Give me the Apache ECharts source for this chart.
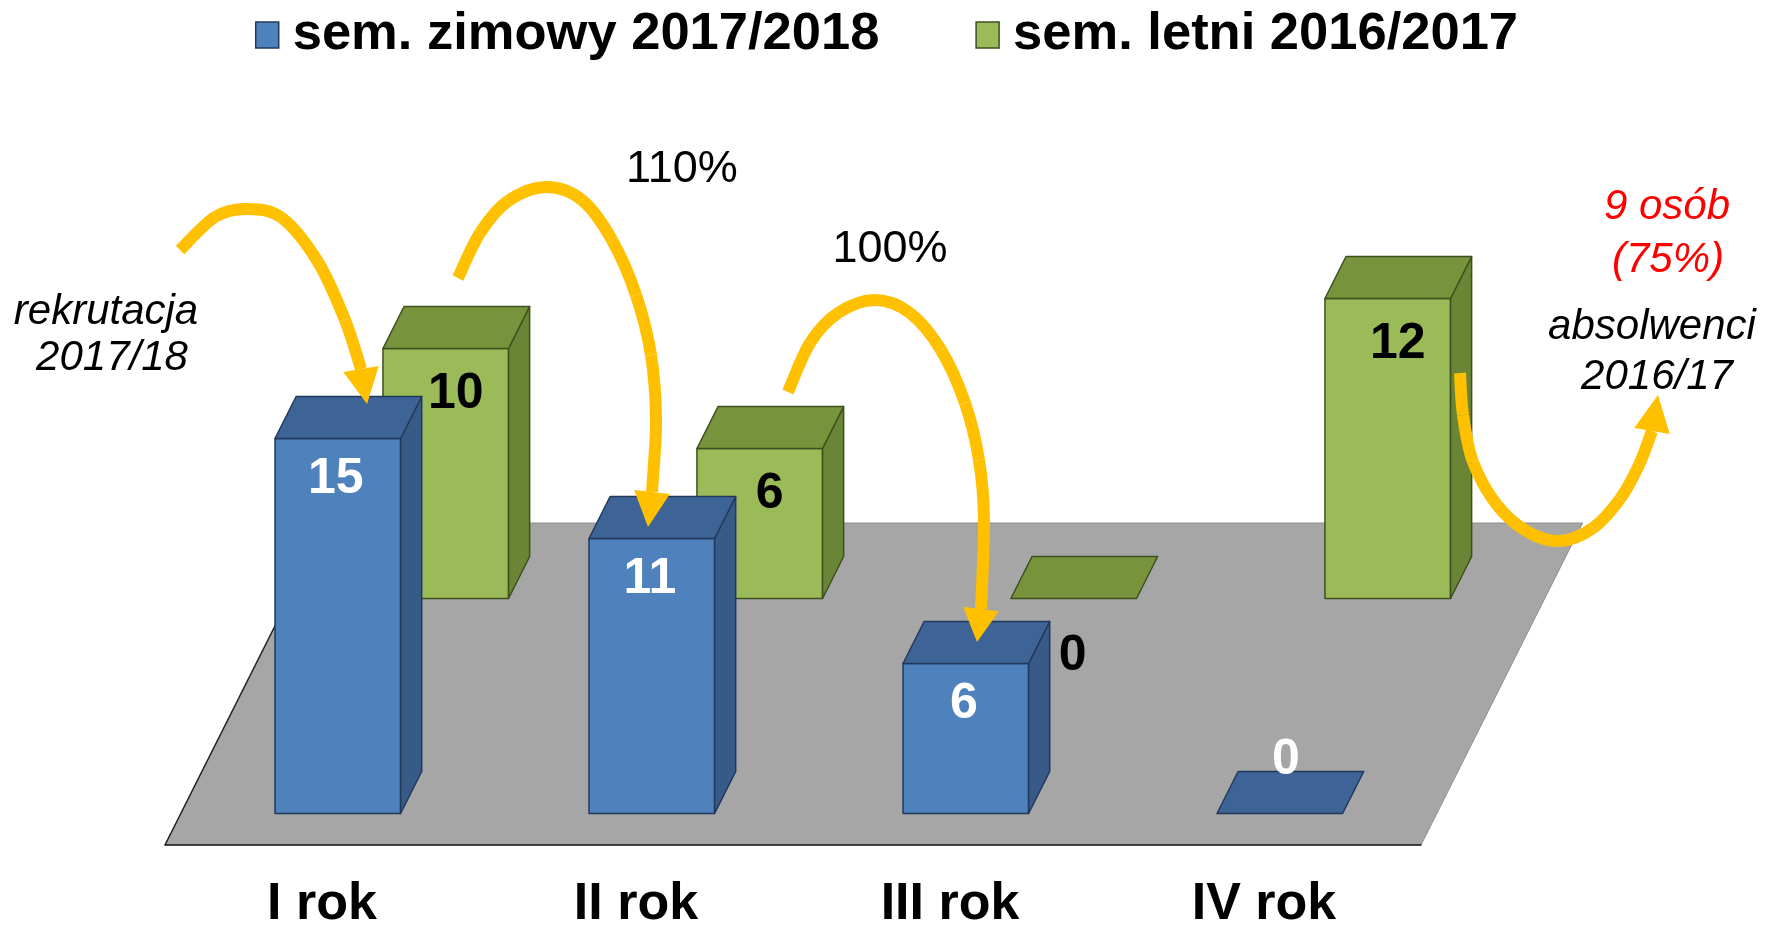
<!DOCTYPE html>
<html>
<head>
<meta charset="utf-8">
<title>Studenci wg roku studiów</title>
<script src="https://cdn.jsdelivr.net/npm/echarts@6.0.0/dist/echarts.min.js"></script>
<style>
  html, body { margin: 0; padding: 0; background: #fff; }
  #main { width: 1773px; height: 930px; }
</style>
</head>
<body>
<div id="main"></div>
<script>
const years = ['I rok', 'II rok', 'III rok', 'IV rok'];
const winterName = 'sem. zimowy 2017/2018';
const winterValues = [15, 11, 6, 0];
const summerName = 'sem. letni 2016/2017';
const summerValues = [10, 6, 0, 12];

// fake 3D: depth goes up and to the right
const SLANT = 0.502;
const FLOOR_DEPTH = 322;
const BAR_DEPTH = 42;
const BAR_RATIO = 0.4;
const FONT = '"Liberation Sans", Arial, sans-serif';
const ARROW = '#FFC000';

const rows = {
  winter: { depth: 31.5, front: '#4F81BD', top: '#3E6396', side: '#375A87', edge: '#22395C',
            label: '#fff', labelDx: -2, labelDy: 41, zeroDx: 6, zeroDy: -53 },
  summer: { depth: 246.5, front: '#9BBB59', top: '#77933C', side: '#6A8535', edge: '#3F4F1F',
            label: '#000', labelDx: 10, labelDy: 46, zeroDx: -1, zeroDy: 58 }
};

function barRenderer(row) {
  return function (params, api) {
    const i = api.value(0), v = api.value(1);
    const base = api.coord([i, 0]);
    const top = api.coord([i, v]);
    const w = api.size([1, 0])[0] * BAR_RATIO;
    const cx = base[0] + row.depth * SLANT;
    const L = cx - w / 2, R = cx + w / 2;
    const B = base[1] - row.depth, T = top[1] - row.depth;
    const ddx = BAR_DEPTH * SLANT;
    const edge = { stroke: row.edge, lineWidth: 1.5, lineJoin: 'round' };
    const kids = [];
    if (v > 0) {
      kids.push({ type: 'rect', shape: { x: L, y: T, width: w, height: B - T },
        style: Object.assign({ fill: row.front }, edge) });
      kids.push({ type: 'polygon',
        shape: { points: [[R, T], [R + ddx, T - BAR_DEPTH], [R + ddx, B - BAR_DEPTH], [R, B]] },
        style: Object.assign({ fill: row.side }, edge) });
    }
    kids.push({ type: 'polygon',
      shape: { points: [[L, T], [R, T], [R + ddx, T - BAR_DEPTH], [L + ddx, T - BAR_DEPTH]] },
      style: Object.assign({ fill: row.top }, edge) });
    kids.push({ type: 'text', style: {
      text: String(v),
      x: cx + (v ? row.labelDx : row.zeroDx),
      y: T + (v ? row.labelDy : row.zeroDy),
      fill: row.label, fontSize: 50, fontWeight: 'bold', fontFamily: FONT,
      align: 'center', verticalAlign: 'middle'
    } });
    return { type: 'group', children: kids };
  };
}

function floorRenderer(params, api) {
  const bw = api.size([1, 0])[0];
  const a = api.coord([0, 0]), b = api.coord([years.length - 1, 0]);
  const x0 = a[0] - bw / 2, x1 = b[0] + bw / 2, y = a[1];
  const dx = FLOOR_DEPTH * SLANT, y2 = y - FLOOR_DEPTH;
  return { type: 'group', children: [
    { type: 'polygon', shape: { points: [[x0, y], [x1, y], [x1 + dx, y2], [x0 + dx, y2]] },
      style: { fill: '#A6A6A6', stroke: '#8E8E8E', lineWidth: 1 } },
    { type: 'polyline', shape: { points: [[x0 + dx, y2], [x0, y]] },
      style: { stroke: '#222', lineWidth: 1.5, fill: null } }
  ] };
}

// annotation arrows: points along the body, then tip of the head
const arrows = [
  { pts: [[180, 250], [215, 217], [247, 209], [282, 218], [318, 262], [345, 320], [361, 369]], tip: [367, 404] },
  { pts: [[458, 278], [480, 233], [508, 201], [546, 187], [582, 200], [612, 240], [636, 295], [651, 355], [656, 420], [652, 492]], tip: [648, 527] },
  { pts: [[788, 392], [810, 343], [838, 313], [875, 300], [910, 313], [941, 350], [965, 403], [979, 460], [984, 520], [981, 609]], tip: [977, 642] },
  { pts: [[1460, 373], [1463, 415], [1473, 462], [1497, 505], [1528, 532], [1560, 541], [1593, 528], [1620, 499], [1639, 465], [1652, 431]], tip: [1658, 395] }
];

// catmull-rom through the points, one bezier piece per span
function smoothPieces(p) {
  const out = [];
  for (let i = 0; i < p.length - 1; i++) {
    const p0 = p[Math.max(i - 1, 0)], p1 = p[i], p2 = p[i + 1], p3 = p[Math.min(i + 2, p.length - 1)];
    out.push({
      x1: p1[0], y1: p1[1], x2: p2[0], y2: p2[1],
      cpx1: p1[0] + (p2[0] - p0[0]) / 6, cpy1: p1[1] + (p2[1] - p0[1]) / 6,
      cpx2: p2[0] - (p3[0] - p1[0]) / 6, cpy2: p2[1] - (p3[1] - p1[1]) / 6
    });
  }
  return out;
}

function arrowGraphics(a) {
  const base = a.pts[a.pts.length - 1];
  let ux = a.tip[0] - base[0], uy = a.tip[1] - base[1];
  const len = Math.sqrt(ux * ux + uy * uy);
  ux /= len; uy /= len;
  const hw = 18;
  const els = smoothPieces(a.pts).map(s => ({
    type: 'bezierCurve', z: 100, shape: s,
    style: { stroke: ARROW, lineWidth: 12, fill: null, lineCap: 'butt' }
  }));
  els.push({ type: 'polygon', z: 100,
    shape: { points: [[base[0] - uy * hw, base[1] + ux * hw], [base[0] + uy * hw, base[1] - ux * hw], a.tip] },
    style: { fill: ARROW } });
  return els;
}

const notes = [
  { text: 'rekrutacja', x: 106, y: 312, italic: true },
  { text: '2017/18', x: 112, y: 358, italic: true },
  { text: '110%', x: 682, y: 170, size: 45 },
  { text: '100%', x: 890, y: 250, size: 45 },
  { text: '9 osób', x: 1667, y: 207, italic: true, color: '#FF0000' },
  { text: '(75%)', x: 1668, y: 260, italic: true, color: '#FF0000' },
  { text: 'absolwenci', x: 1652, y: 327, italic: true },
  { text: '2016/17', x: 1657, y: 377, italic: true }
];

const graphic = [];
arrows.forEach(a => graphic.push.apply(graphic, arrowGraphics(a)));
notes.forEach(n => graphic.push({
  type: 'text', z: 100, x: n.x, y: n.y,
  style: { text: n.text, fill: n.color || '#000', fontSize: n.size || 42,
    fontStyle: n.italic ? 'italic' : 'normal', fontFamily: FONT,
    align: 'center', verticalAlign: 'middle' }
}));

const chart = echarts.init(document.getElementById('main'));
chart.setOption({
  animation: false,
  backgroundColor: '#fff',
  legend: {
    top: 2, left: 'center',
    icon: 'rect', itemWidth: 23, itemHeight: 26, itemGap: 96,
    textStyle: { fontSize: 52.5, fontWeight: 'bold', fontFamily: FONT, color: '#000',
      lineHeight: 56, padding: [0, 0, 0, 9] },
    data: [
      { name: winterName, itemStyle: { borderColor: '#22395C', borderWidth: 1.5 } },
      { name: summerName, itemStyle: { borderColor: '#3F4F1F', borderWidth: 1.5 } }
    ]
  },
  grid: { left: 165, right: 352, top: 95, bottom: 85, outerBoundsMode: 'none' },
  xAxis: {
    type: 'category', data: years, z: 5,
    axisLine: { lineStyle: { color: '#1a1a1a', width: 1.5 } },
    axisTick: { length: 21, lineStyle: { color: '#999', width: 1 } },
    axisLabel: { fontSize: 52, fontWeight: 'bold', fontFamily: FONT, color: '#000', margin: 34 }
  },
  yAxis: { type: 'value', min: 0, max: 30, show: false },
  graphic: graphic,
  series: [
    { name: 'floor', type: 'custom', silent: true, renderItem: floorRenderer,
      data: [[0, 0]], encode: { x: 0, y: 1 } },
    { name: summerName, type: 'custom', silent: true, renderItem: barRenderer(rows.summer),
      itemStyle: { color: rows.summer.front },
      data: summerValues.map((v, i) => [i, v]), encode: { x: 0, y: 1 } },
    { name: winterName, type: 'custom', silent: true, renderItem: barRenderer(rows.winter),
      itemStyle: { color: rows.winter.front },
      data: winterValues.map((v, i) => [i, v]), encode: { x: 0, y: 1 } }
  ]
});
</script>
</body>
</html>
